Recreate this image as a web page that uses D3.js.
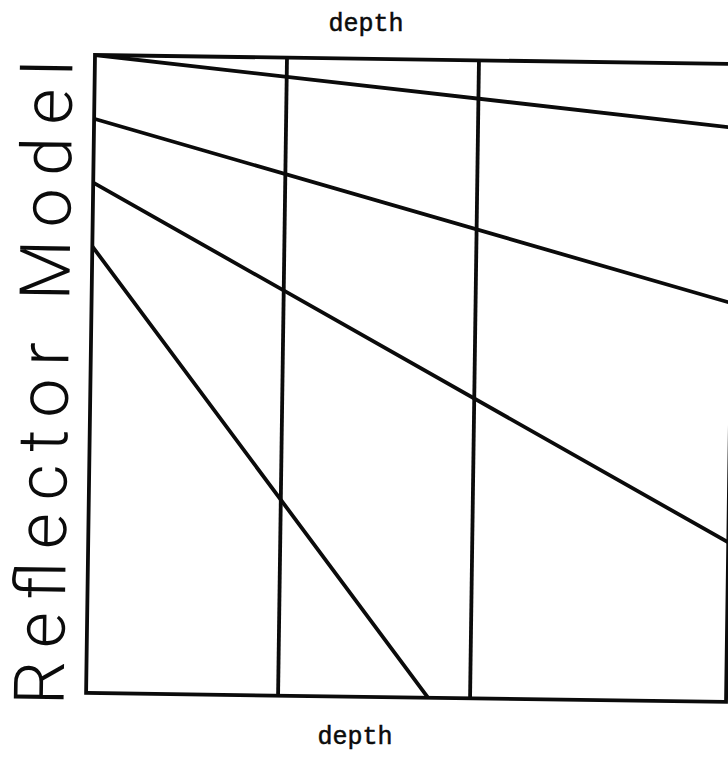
<!DOCTYPE html>
<html>
<head>
<meta charset="utf-8">
<script src="https://cdn.jsdelivr.net/npm/d3@7"></script>
<style>
  html, body { margin: 0; padding: 0; background: #fff; }
  svg { display: block; }
</style>
</head>
<body>
<div id="chart"></div>
<script>
// Normalised horizontal distance and depth of the model section
const distanceDomain = [0, 1];
const depthDomain = [0, 1];

// Vertical sampling lines across the section
const wellPositions = [0.3, 0.6];

// Dipping reflectors: depth at the left edge and at the right edge
const reflectorNames = ["R1", "R2", "R3", "R4"];
const depthAtLeft = [0.0, 0.1, 0.2, 0.3];
const depthAtRight = [0.1, 0.375, 0.75, 1.61];

const axisLabel = "depth";
const modelTitle = "Reflector Model";

const W = 728, H = 759;
const plotW = 640, plotH = 638;
const origin = { x: 95, y: 55 };
const tilt = 0.8;        // the section sits slightly rotated on the sheet
const ink = "#0b0b0b";
const lineW = 3.8;

const svg = d3.select("#chart").append("svg")
  .attr("width", W).attr("height", H);

const x = d3.scaleLinear().domain(distanceDomain).range([0, plotW]);
const y = d3.scaleLinear().domain(depthDomain).range([0, plotH]);

const plot = svg.append("g")
  .attr("transform", `translate(${origin.x},${origin.y}) rotate(${tilt})`);

plot.append("clipPath").attr("id", "section-clip")
  .append("rect").attr("x", 0).attr("y", 0)
  .attr("width", plotW).attr("height", plotH);

const reflectors = reflectorNames.map((name, i) => ({
  name,
  pts: [[distanceDomain[0], depthAtLeft[i]], [distanceDomain[1], depthAtRight[i]]]
}));

const line = d3.line().x(d => x(d[0])).y(d => y(d[1]));

const inner = plot.append("g").attr("clip-path", "url(#section-clip)");

inner.selectAll("path.reflector")
  .data(reflectors)
  .join("path")
  .attr("class", "reflector")
  .attr("d", d => line(d.pts))
  .attr("fill", "none")
  .attr("stroke", ink)
  .attr("stroke-width", lineW)
  .attr("stroke-linecap", "round");

plot.selectAll("line.well")
  .data(wellPositions)
  .join("line")
  .attr("class", "well")
  .attr("x1", d => x(d)).attr("x2", d => x(d))
  .attr("y1", y(depthDomain[0])).attr("y2", y(depthDomain[1]))
  .attr("stroke", ink)
  .attr("stroke-width", lineW);

// Frame of the section
plot.append("rect")
  .attr("x", x(distanceDomain[0])).attr("y", y(depthDomain[0]))
  .attr("width", x(distanceDomain[1]) - x(distanceDomain[0]))
  .attr("height", y(depthDomain[1]) - y(depthDomain[0]))
  .attr("fill", "none")
  .attr("stroke", ink)
  .attr("stroke-width", lineW);

// Axis captions (typewriter style)
const capFont = "'Liberation Mono', 'DejaVu Sans Mono', monospace";
[[366, 31], [355, 744]].forEach(([cx, cy]) => {
  svg.append("text")
    .attr("x", cx).attr("y", cy)
    .attr("text-anchor", "middle")
    .attr("font-family", capFont)
    .attr("font-size", 25)
    .attr("fill", ink)
    .attr("stroke", ink)
    .attr("stroke-width", 0.5)
    .text(axisLabel);
});

// Vertical title along the left edge
svg.append("text")
  .attr("transform", `translate(68,383) rotate(${-90 + tilt})`)
  .attr("text-anchor", "middle")
  .attr("font-family", "Roboto, 'Liberation Sans', sans-serif")
  .attr("font-weight", 300)
  .attr("font-size", 70)
  .attr("textLength", 645)
  .attr("lengthAdjust", "spacing")
  .attr("fill", ink)
  .text(modelTitle);
</script>
</body>
</html>
